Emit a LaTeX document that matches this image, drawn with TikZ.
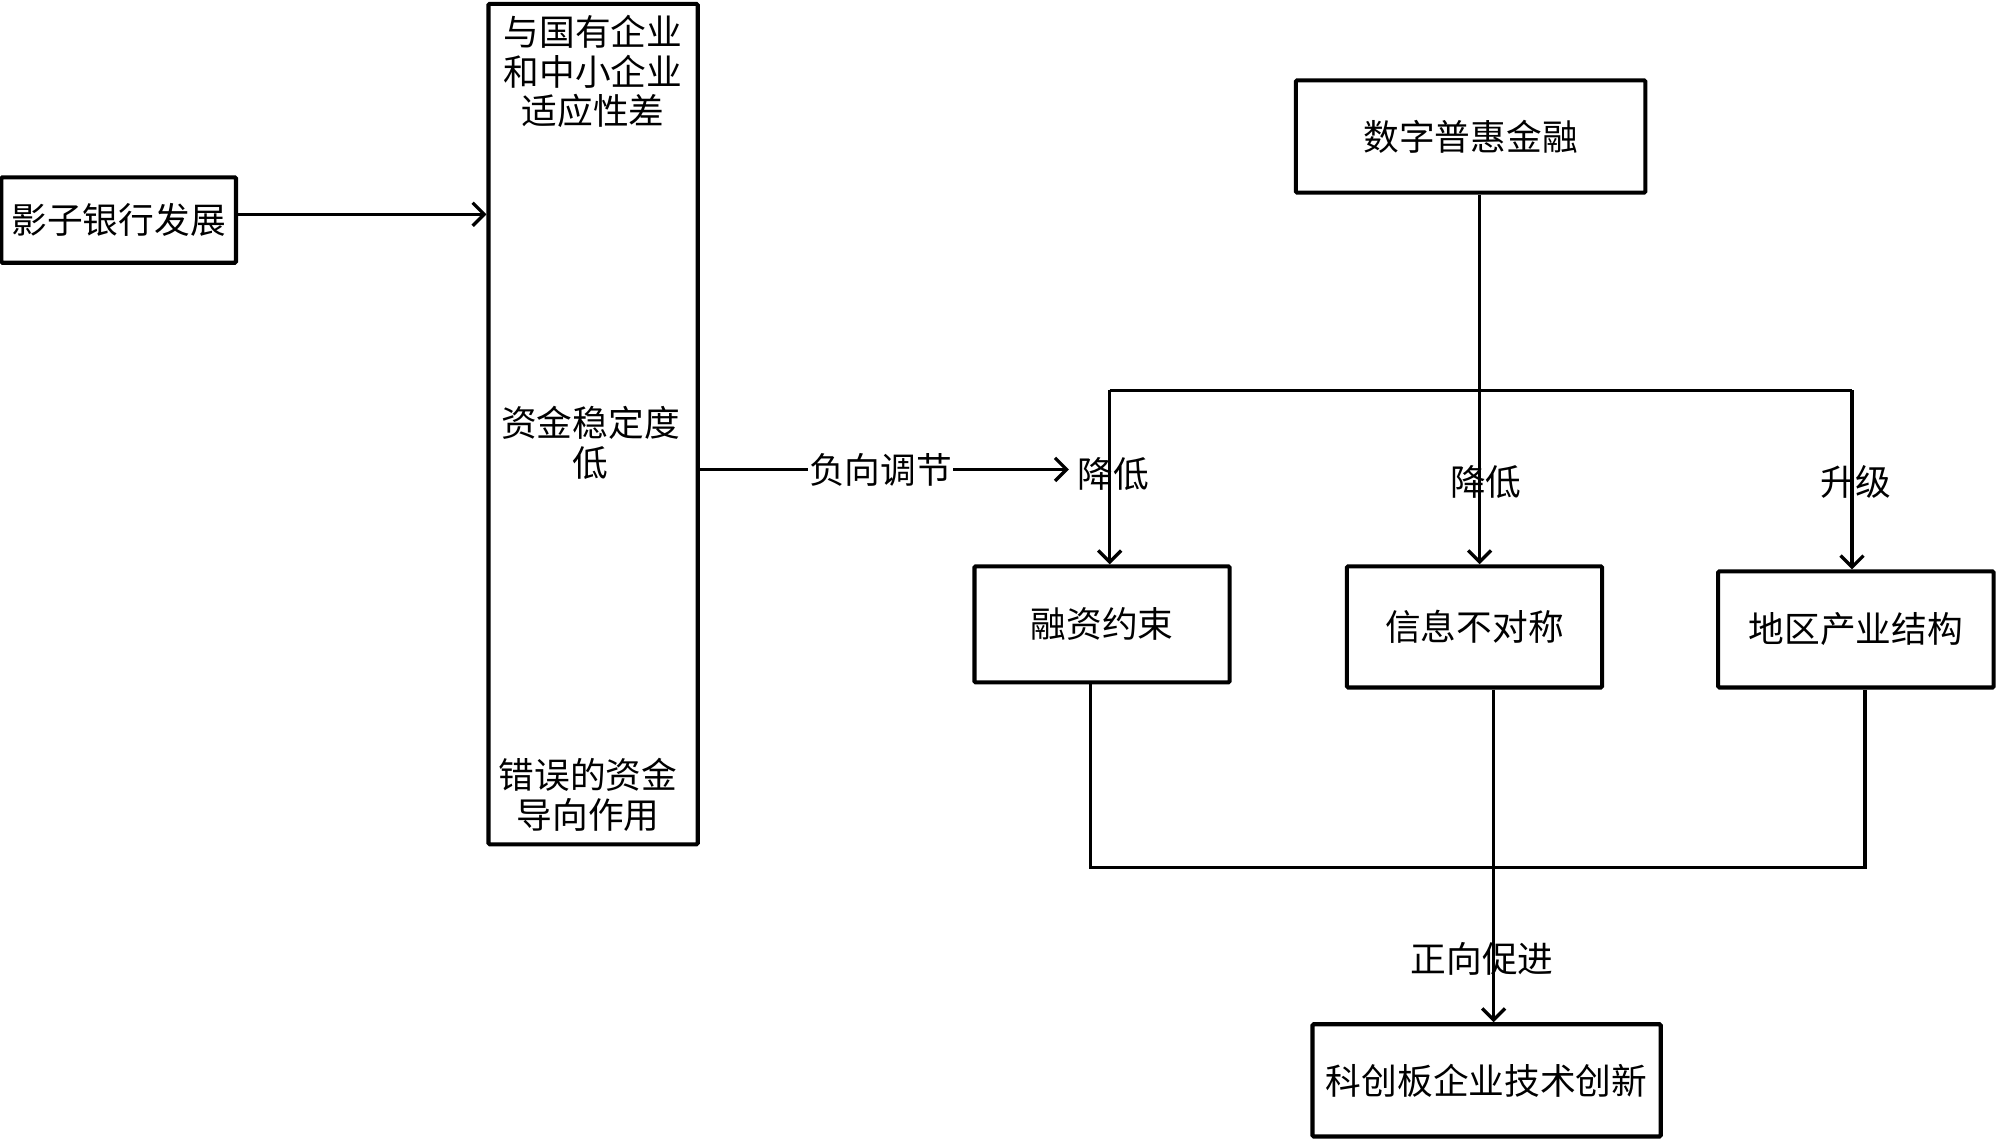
\documentclass[tikz,border=0pt]{standalone}
\usepackage{fontspec}
\setmainfont{Noto Sans CJK SC}
\usetikzlibrary{arrows.meta,calc}
\begin{document}
\begin{tikzpicture}[x=1pt,y=-1pt,
  box/.style={draw, line width=3.2pt, rounded corners=1pt, inner sep=0pt, font=\fontsize{28}{31}\selectfont, align=center},
  lbl/.style={inner sep=1pt, font=\fontsize{28}{31}\selectfont, align=center},
  conn/.style={line width=2.8pt},
  arr/.style={conn, -{Straight Barb[length=9pt,width=18pt,line width=2.6pt]}}]
\useasboundingbox (0,0) rectangle (1568,894);
\fill[white] (0,0) rectangle (1568,894);
% nodes
\node[box, minimum width=184pt, minimum height=67pt] (shadow) at (93,172.5) {影子银行发展};
\node[box, minimum width=164pt, minimum height=659pt] (tall) at (465,332.5) {};
\node[lbl] (t1) at (465,56) {与国有企业\\和中小企业\\适应性差};
\node[lbl] (t2) at (463,347) {资金稳定度\\低};
\node[lbl] (t3) at (461,623) {错误的资金\\导向作用};
\node[box, minimum width=274pt, minimum height=88pt] (dig) at (1153,107) {数字普惠金融};
\node[box, minimum width=200pt, minimum height=91pt] (fin) at (864,489.5) {融资约束};
\node[box, minimum width=200pt, minimum height=95pt] (info) at (1156,491.5) {信息不对称};
\node[box, minimum width=216pt, minimum height=91pt] (reg) at (1455,493.5) {地区产业结构};
\node[box, minimum width=273pt, minimum height=88pt] (kc) at (1165.5,847) {科创板企业技术创新};
% left connectors
\draw[arr] (shadow.east |- 0,168) -- (tall.west |- 0,168);
\coordinate (m) at (838,368);
\draw[arr] (tall.east |- m) -- (m) node[pos=0.49, lbl, fill=white] (neg) {负向调节};
% top tree
\coordinate (jl) at (870,306);
\coordinate (jc) at (1160,306);
\coordinate (jr) at (1452,306);
\draw[conn] (dig.south -| jc) -- (jc);
\draw[conn] (jl) -- (jr);
\draw[arr] (jl) -- (fin.north -| jl);
\draw[arr] (jc) -- (info.north -| jc);
\draw[arr] (jr) -- (reg.north -| jr);
\node[lbl] (l1) at (873,372) {降低};
\node[lbl] (l2) at (1165,378) {降低};
\node[lbl] (l3) at (1455,378) {升级};
% bottom tree
\coordinate (bl) at (855,680);
\coordinate (br) at (1462,680);
\coordinate (bc) at (1171,680);
\draw[conn] (fin.south -| bl) -- (bl) -- (br) -- (reg.south -| br);
\draw[arr] (info.south -| bc) -- (kc.north -| bc);
\node[lbl] (pos) at (1162,752) {正向促进};
\end{tikzpicture}
\end{document}
